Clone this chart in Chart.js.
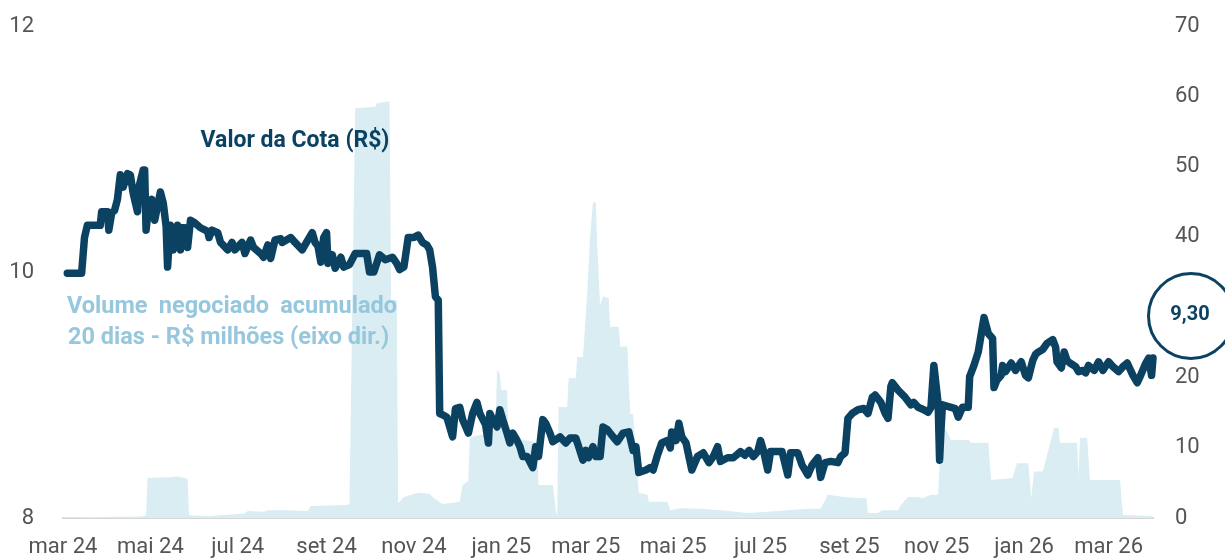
<!DOCTYPE html>
<html><head><meta charset="utf-8">
<script src="https://cdn.jsdelivr.net/npm/chart.js@4.4.1/dist/chart.umd.min.js"></script>
<style>html,body{margin:0;padding:0;background:#fff;overflow:hidden}#w{width:1225px;height:558px;position:relative}</style>
</head><body><div id="w"><canvas id="c"></canvas></div>
<script>
// Time axis: days since 2024-03-01
const tickDays = [0,61,122,184,245,306,365,426,487,549,610,671,730];
const tickLabels = ['mar 24','mai 24','jul 24','set 24','nov 24','jan 25','mar 25','mai 25','jul 25','set 25','nov 25','jan 26','mar 26'];

// Valor da Cota (R$) - left axis
const priceDays = [3,13,15,17,26,27,31,32,34,36,38,40,42,45,47,49,52,53,56,57,58,59,62,64,68,70,72,73,75,77,80,82,83,85,87,89,92,96,101,102,104,108,110,115,118,120,125,127,131,133,138,140,143,145,148,152,153,159,162,167,170,174,176,178,180,182,184,185,188,190,194,196,200,204,210,212,214,217,219,221,225,230,233,235,238,241,245,248,251,254,256,258,260,262,263,265,268,272,274,277,279,283,286,289,291,295,297,298,300,303,305,307,310,312,314,317,319,321,324,328,330,332,335,337,340,342,347,351,354,358,360,363,365,367,370,372,375,377,380,384,387,391,395,398,400,402,407,410,412,415,418,422,424,425,428,430,432,435,437,439,443,447,451,454,457,459,464,468,473,476,479,482,485,487,489,492,494,499,502,506,508,513,516,520,523,527,529,532,536,541,543,546,548,551,555,559,562,565,567,571,574,576,578,579,583,588,592,594,597,601,604,606,608,611,612,613,614,620,623,625,628,632,633,636,639,643,646,649,650,652,655,656,658,662,665,669,672,674,677,679,681,684,687,691,693,694,697,699,701,703,707,709,712,714,716,720,723,726,730,733,737,740,743,747,750,752,756,758,760,761];
const priceValues = [9.99,9.99,10.28,10.38,10.38,10.49,10.49,10.34,10.48,10.50,10.59,10.79,10.69,10.80,10.79,10.64,10.49,10.69,10.83,10.83,10.34,10.45,10.59,10.42,10.65,10.56,10.37,10.04,10.38,10.18,10.38,10.18,10.36,10.36,10.20,10.42,10.40,10.36,10.33,10.28,10.34,10.32,10.24,10.18,10.24,10.18,10.24,10.15,10.26,10.20,10.15,10.12,10.22,10.11,10.26,10.27,10.24,10.28,10.24,10.18,10.24,10.32,10.24,10.21,10.08,10.28,10.32,10.07,10.14,10.03,10.12,10.04,10.06,10.15,10.15,10.15,10.00,10.00,10.07,10.14,10.10,10.12,10.07,10.02,10.04,10.28,10.28,10.30,10.24,10.22,10.18,10.04,9.80,9.77,8.85,8.84,8.82,8.66,8.89,8.90,8.80,8.69,8.85,8.94,8.85,8.76,8.61,8.85,8.80,8.74,8.88,8.80,8.69,8.61,8.69,8.63,8.58,8.50,8.50,8.41,8.58,8.50,8.80,8.77,8.69,8.62,8.66,8.61,8.65,8.65,8.58,8.47,8.55,8.49,8.58,8.50,8.50,8.74,8.72,8.66,8.62,8.69,8.70,8.55,8.58,8.37,8.39,8.41,8.39,8.51,8.61,8.63,8.57,8.70,8.63,8.77,8.66,8.61,8.50,8.39,8.50,8.53,8.45,8.50,8.58,8.46,8.49,8.49,8.54,8.51,8.55,8.50,8.54,8.63,8.55,8.39,8.54,8.54,8.54,8.35,8.53,8.53,8.43,8.35,8.43,8.49,8.33,8.45,8.46,8.45,8.50,8.53,8.81,8.85,8.88,8.89,8.85,8.98,9.00,8.94,8.85,8.81,9.07,9.10,9.04,8.98,8.92,8.94,8.90,8.88,8.86,8.90,9.24,8.93,8.47,8.72,8.92,8.90,8.89,8.82,8.90,8.90,9.15,9.24,9.35,9.63,9.50,9.46,9.06,9.12,9.16,9.24,9.19,9.26,9.20,9.27,9.16,9.14,9.28,9.33,9.35,9.37,9.42,9.45,9.39,9.27,9.22,9.35,9.28,9.26,9.23,9.19,9.20,9.18,9.24,9.20,9.27,9.20,9.27,9.23,9.19,9.23,9.26,9.16,9.10,9.15,9.26,9.30,9.16,9.30];

// Volume negociado acumulado 20 dias - R$ milhões (right axis)
const volumeDays = [0,54,58,59,75,80,87,88,101,110,126,129,140,143,156,171,173,198,200,204,218,219,228,229,233,234,238,245,249,256,259,265,277,279,283,284,296,302,303,305,306,310,311,328,331,332,342,343,344,345,346,352,353,358,359,363,364,366,368,370,372,373,375,377,381,382,388,389,394,396,398,401,402,408,409,422,424,431,445,459,478,492,506,520,529,534,545,557,561,562,569,572,583,585,590,597,600,606,611,613,616,620,632,634,646,648,663,666,674,676,678,684,692,695,696,708,709,710,715,717,738,740,747,761];
const volumeValues = [0.1,0.2,0.4,5.7,5.8,5.9,5.6,0.4,0.3,0.4,0.6,1.0,0.9,1.1,1.1,1.0,1.7,1.85,2.0,58.3,58.5,59.0,59.3,31.0,31.0,2.1,3.0,3.4,3.6,3.4,2.8,2.0,2.3,4.7,5.3,11.5,12.0,12.5,21.1,20.5,18.2,18.2,11.4,10.9,10.7,4.7,4.7,3.0,1.0,0.4,15.8,15.8,19.9,19.9,22.9,22.9,25.8,32.0,40.0,44.9,44.9,38.6,30.3,31.5,31.3,27.2,27.2,24.4,24.4,14.8,14.8,6.4,3.6,3.3,2.3,2.3,1.1,1.4,1.3,1.1,0.7,0.9,1.1,1.3,1.3,3.3,3.0,2.8,2.8,0.7,0.7,1.1,1.1,1.85,3.0,3.0,2.8,3.3,3.3,12.5,12.8,11.1,11.1,10.7,10.7,5.4,5.7,7.8,7.8,2.8,6.6,6.6,12.8,12.8,10.7,10.7,5.8,11.4,11.4,5.4,5.4,0.4,0.4,0.3];

const lastValueLabel = '9,30';
const priceLabel = 'Valor da Cota (R$)';
const volumeLabelLines = [['Volume','negociado','acumulado'], ['20 dias - R$ milhões (eixo dir.)']];

const NAVY = '#0b4262';
const AREA = '#d9edf3';
const LIGHT = '#96c7dd';
const TICK = '#555555';
const FONT = 'Roboto, "DejaVu Sans", sans-serif';

const annotations = {
  id: 'annotations',
  afterDraw(chart) {
    const ctx = chart.ctx;
    ctx.save();
    ctx.fillStyle = NAVY;
    ctx.font = 'bold 23px ' + FONT;
    ctx.textAlign = 'center';
    ctx.textBaseline = 'middle';
    ctx.fillText(priceLabel, 295, 141);
    ctx.fillStyle = LIGHT;
    ctx.font = 'bold 23.5px ' + FONT;
    ctx.textAlign = 'left';
    const x0 = 67, x1 = 397;
    const ys = [307, 338];
    volumeLabelLines.forEach((words, i) => {
      if (words.length === 1) {
        ctx.fillText(words[0], 68, ys[i]);
        return;
      }
      const widths = words.map(w => ctx.measureText(w).width);
      const total = widths.reduce((a, b) => a + b, 0);
      const gap = (x1 - x0 - total) / (words.length - 1);
      let x = x0;
      words.forEach((w, k) => { ctx.fillText(w, x, ys[i]); x += widths[k] + gap; });
    });
    ctx.beginPath();
    ctx.arc(1191, 316, 42.5, 0, Math.PI * 2);
    ctx.fillStyle = '#ffffff';
    ctx.fill();
    ctx.strokeStyle = NAVY;
    ctx.lineWidth = 3;
    ctx.stroke();
    ctx.fillStyle = NAVY;
    ctx.font = 'bold 20px ' + FONT;
    ctx.textAlign = 'center';
    ctx.fillText(lastValueLabel, 1190, 315);
    ctx.restore();
  }
};

const noVPad = s => { s.paddingTop = 0; s.paddingBottom = 0; };

new Chart(document.getElementById('c'), {
  type: 'line',
  data: {
    datasets: [
      {
        label: priceLabel,
        data: priceDays.map((d, i) => ({x: d, y: priceValues[i]})),
        yAxisID: 'y',
        borderColor: NAVY,
        borderWidth: 7.5,
        borderJoinStyle: 'round',
        borderCapStyle: 'round',
        pointRadius: 0,
        tension: 0,
        fill: false,
        clip: false
      },
      {
        label: 'Volume',
        data: volumeDays.map((d, i) => ({x: d, y: volumeValues[i]})),
        yAxisID: 'y1',
        borderWidth: 0,
        borderColor: AREA,
        backgroundColor: AREA,
        pointRadius: 0,
        tension: 0,
        fill: 'origin'
      }
    ]
  },
  options: {
    responsive: true,
    maintainAspectRatio: false,
    animation: false,
    layout: {padding: {top: 26, left: 0, right: 0, bottom: 0}},
    plugins: {legend: {display: false}, tooltip: {enabled: false}},
    scales: {
      x: {
        type: 'linear', position: 'bottom', min: 0, max: 761,
        grid: {display: false},
        border: {display: true, color: '#d6d6d6', width: 2},
        afterBuildTicks: s => { s.ticks = tickDays.map(v => ({value: v})); },
        afterFit: s => { s.height = 40; s.paddingLeft = 0; s.paddingRight = 0; },
        ticks: {
          autoSkip: false, maxRotation: 0, padding: 8,
          color: TICK, font: {family: FONT, size: 22},
          callback: v => { const i = tickDays.indexOf(v); return i >= 0 ? tickLabels[i] : ''; }
        }
      },
      y: {
        position: 'left', min: 8, max: 12,
        grid: {display: false}, border: {display: false},
        afterFit: s => { s.width = 63; noVPad(s); },
        ticks: {stepSize: 2, padding: 21, color: TICK, font: {family: FONT, size: 22}, callback: v => String(v)}
      },
      y1: {
        position: 'right', min: 0, max: 70,
        grid: {display: false}, border: {display: false},
        afterFit: s => { s.width = 72; noVPad(s); },
        ticks: {stepSize: 10, padding: 14, color: TICK, font: {family: FONT, size: 22}, callback: v => String(v)}
      }
    }
  },
  plugins: [annotations]
});
</script></body></html>
